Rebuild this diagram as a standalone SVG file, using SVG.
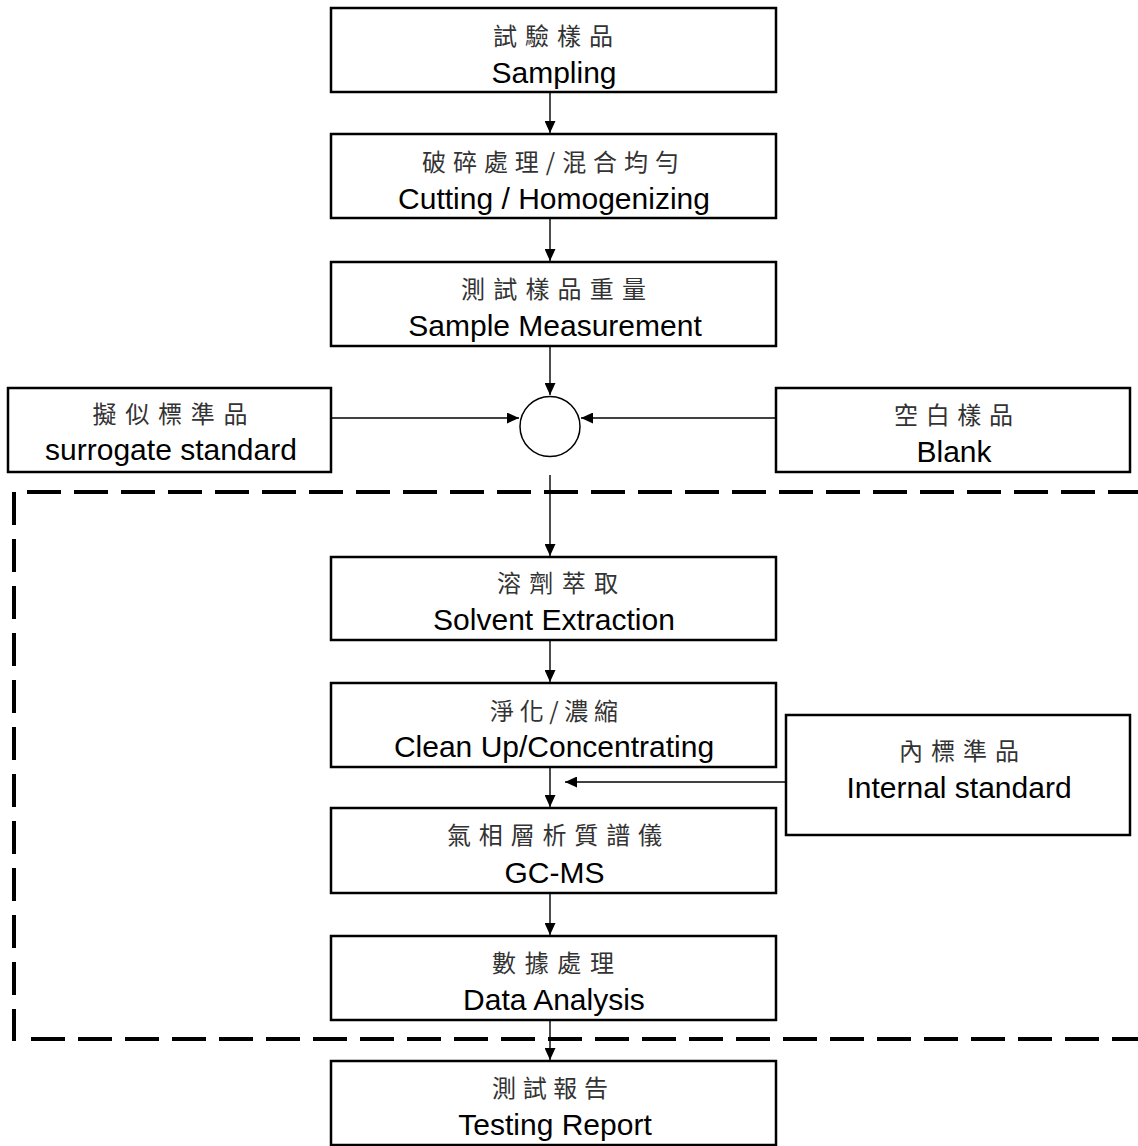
<svg xmlns="http://www.w3.org/2000/svg" width="1138" height="1146" viewBox="0 0 1138 1146">
<style>
.box{fill:#fff;stroke:#000;stroke-width:2.5}
.en{font-family:"Liberation Sans",Arial,sans-serif;font-size:30px;fill:#000;text-anchor:middle}
.zh{font-family:"Noto Sans CJK TC","Noto Sans CJK SC",sans-serif;font-size:24px;fill:#333;text-anchor:middle}
.con{stroke:#000;stroke-width:1.4;fill:none}
.dash{stroke:#000;stroke-width:4;fill:none}
</style>
<defs>
<marker id="ah" viewBox="0 0 12 11" refX="12" refY="5.5" markerWidth="12" markerHeight="11" orient="auto" markerUnits="userSpaceOnUse">
<path d="M0,0 L12,5.5 L0,11 Z" fill="#000"/>
</marker>
</defs>
<rect width="1138" height="1146" fill="#fff"/>
<g id="dashed-frame">
<line class="dash" x1="27" y1="492" x2="1145" y2="492" stroke-dasharray="34 13"/>
<line class="dash" x1="14" y1="492" x2="14" y2="1041" stroke-dasharray="33 14"/>
<line class="dash" x1="31" y1="1039" x2="1145" y2="1039" stroke-dasharray="34 13"/>
</g>
<g id="n1"><rect class="box" x="331" y="8" width="445" height="84"/>
<text class="zh" x="553" y="45" textLength="120" lengthAdjust="spacing">試驗樣品</text>
<text class="en" x="554" y="83">Sampling</text></g>
<g id="n2"><rect class="box" x="331" y="134" width="445" height="84"/>
<text class="zh" x="550.5" y="171" textLength="257" lengthAdjust="spacing">破碎處理/混合均勻</text>
<text class="en" x="554" y="209">Cutting / Homogenizing</text></g>
<g id="n3"><rect class="box" x="331" y="262" width="445" height="84"/>
<text class="zh" x="553.5" y="298" textLength="185" lengthAdjust="spacing">測試樣品重量</text>
<text class="en" x="555" y="336">Sample Measurement</text></g>
<g id="mix"><circle cx="550" cy="426.5" r="30" fill="#fff" stroke="#000" stroke-width="1.5"/></g>
<g id="n-surrogate"><rect class="box" x="8" y="388" width="323" height="84"/>
<text class="zh" x="170" y="423" textLength="155" lengthAdjust="spacing">擬似標準品</text>
<text class="en" x="171" y="460">surrogate standard</text></g>
<g id="n-blank"><rect class="box" x="776" y="388" width="354" height="84"/>
<text class="zh" x="953.5" y="424" textLength="119" lengthAdjust="spacing">空白樣品</text>
<text class="en" x="954" y="462">Blank</text></g>
<g id="n4"><rect class="box" x="331" y="557" width="445" height="83"/>
<text class="zh" x="557.5" y="592" textLength="121" lengthAdjust="spacing">溶劑萃取</text>
<text class="en" x="554" y="630">Solvent Extraction</text></g>
<g id="n5"><rect class="box" x="331" y="683" width="445" height="84"/>
<text class="zh" x="554" y="720" textLength="128" lengthAdjust="spacing">淨化/濃縮</text>
<text class="en" x="554" y="757">Clean Up/Concentrating</text></g>
<g id="n-internal"><rect class="box" x="786" y="715" width="344" height="120"/>
<text class="zh" x="959" y="760" textLength="120" lengthAdjust="spacing">內標準品</text>
<text class="en" x="959" y="798">Internal standard</text></g>
<g id="n6"><rect class="box" x="331" y="808" width="445" height="85"/>
<text class="zh" x="554.5" y="844" textLength="215" lengthAdjust="spacing">氣相層析質譜儀</text>
<text class="en" x="554.5" y="883">GC-MS</text></g>
<g id="n7"><rect class="box" x="331" y="936" width="445" height="84"/>
<text class="zh" x="553" y="972" textLength="122" lengthAdjust="spacing">數據處理</text>
<text class="en" x="554" y="1010">Data Analysis</text></g>
<g id="n8"><rect class="box" x="331" y="1061" width="445" height="84"/>
<text class="zh" x="550" y="1097" textLength="116" lengthAdjust="spacing">測試報告</text>
<text class="en" x="555" y="1135">Testing Report</text></g>
<g id="connectors">
<line class="con" x1="550" y1="93" x2="550" y2="133" marker-end="url(#ah)"/>
<line class="con" x1="550" y1="219" x2="550" y2="261" marker-end="url(#ah)"/>
<line class="con" x1="550" y1="347" x2="550" y2="395" marker-end="url(#ah)"/>
<line class="con" x1="332" y1="418" x2="519" y2="418" marker-end="url(#ah)"/>
<line class="con" x1="775" y1="418" x2="581" y2="418" marker-end="url(#ah)"/>
<line class="con" x1="550" y1="475" x2="550" y2="556" marker-end="url(#ah)"/>
<line class="con" x1="550" y1="641" x2="550" y2="682" marker-end="url(#ah)"/>
<line class="con" x1="550" y1="768" x2="550" y2="807" marker-end="url(#ah)"/>
<line class="con" x1="785" y1="782" x2="565" y2="782" marker-end="url(#ah)"/>
<line class="con" x1="550" y1="894" x2="550" y2="935" marker-end="url(#ah)"/>
<line class="con" x1="550" y1="1021" x2="550" y2="1060" marker-end="url(#ah)"/>
</g>
</svg>
